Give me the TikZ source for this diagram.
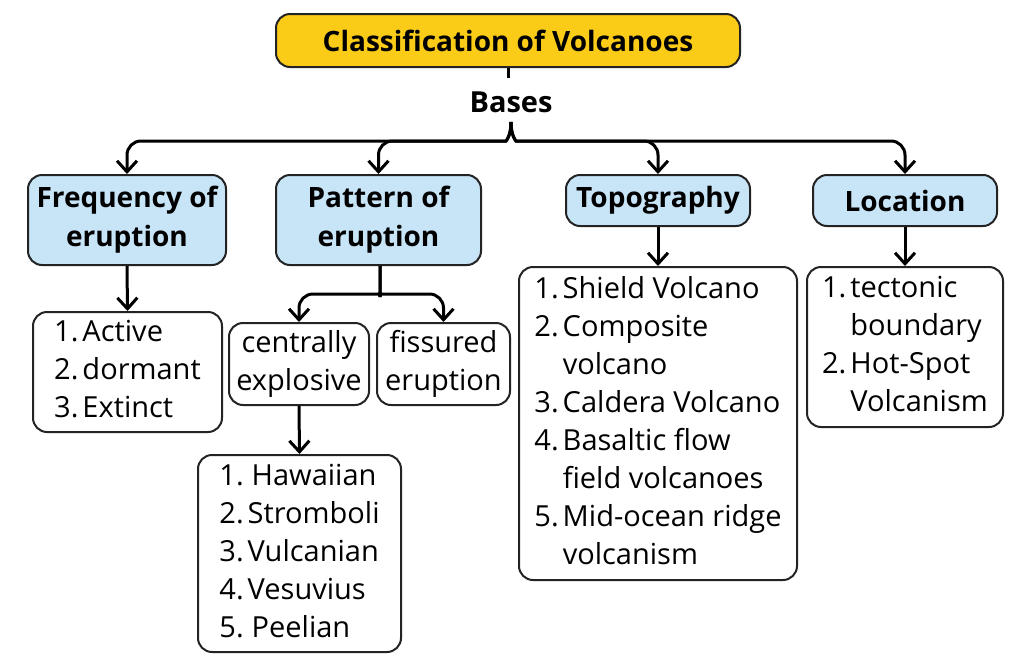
\documentclass[tikz,border=0pt]{standalone}
\usepackage{fontspec}
\setmainfont{Open Sans}
\usetikzlibrary{arrows.meta}
\definecolor{ttlfill}{RGB}{250,204,24}
\definecolor{hdrfill}{RGB}{200,228,247}
\definecolor{edgecol}{RGB}{35,35,35}
\newcommand\lstfont{\fontsize{14.5}{19}\selectfont}
\newcommand\mylist[1]{{\lstfont\begin{tabular}{@{}l@{\hspace{2pt}}l@{}}#1\end{tabular}}}
\begin{document}
\begin{tikzpicture}[x=0.5pt,y=-0.5pt,
  box/.style={draw=edgecol, line width=1pt, rounded corners=7pt, fill=white, inner sep=0pt, align=center},
  hdrbox/.style={box, fill=hdrfill, font=\bfseries\fontsize{14}{19.5}\selectfont},
  ttlbox/.style={box, fill=ttlfill, font=\bfseries\fontsize{14}{16}\selectfont},
  arr/.style={draw=black, line width=1.5pt, rounded corners=7pt, -{Straight Barb[length=5.5pt,width=10pt]}},
  plain/.style={draw=black, line width=1.5pt}]
\useasboundingbox (0,0) rectangle (1024,665);

% nodes
\node[ttlbox, minimum width=232pt, minimum height=26.5pt] (title) at (508,40.5) {Classification of Volcanoes};
\node[font=\bfseries\fontsize{14.5}{16}\selectfont, inner sep=0pt] (bases) at (511,102) {Bases};

\node[hdrbox, minimum width=99pt, minimum height=45pt] (freq) at (127,220) {Frequency of\\eruption};
\node[hdrbox, minimum width=102.5pt, minimum height=45pt] (patt) at (378.5,220) {Pattern of\\eruption};
\node[hdrbox, minimum width=92pt, minimum height=25.5pt] (topo) at (658,200.5) {Topography};
\node[hdrbox, minimum width=92pt, minimum height=25.5pt] (loc) at (905,200.5) {Location};

\node[box, minimum width=94.5pt, minimum height=60pt] (freqlist) at (127.5,372)
  {\mylist{1.&Active\\2.&dormant\\3.&Extinct}};
\node[box, minimum width=70pt, minimum height=41pt, font=\lstfont] (cent) at (299,364) {centrally\\explosive};
\node[box, minimum width=66.5pt, minimum height=41pt, font=\lstfont] (fiss) at (443.5,364) {fissured\\eruption};
\node[box, minimum width=101.5pt, minimum height=98.5pt] (haw) at (299.5,553.5)
  {\mylist{1.&\hspace{2pt}Hawaiian\\2.&Stromboli\\3.&Vulcanian\\4.&Vesuvius\\5.&\hspace{2pt}Peelian}};
\node[box, minimum width=139pt, minimum height=156.5pt] (topolist) at (658,423.5)
  {\mylist{1.&Shield Volcano\\2.&Composite\\&volcano\\3.&Caldera Volcano\\4.&Basaltic flow\\&field volcanoes\\5.&Mid-ocean ridge\\&volcanism}};
\node[box, minimum width=98pt, minimum height=80pt] (loclist) at (905,347)
  {\mylist{1.&tectonic\\&boundary\\2.&Hot-Spot\\&Volcanism}};

% helper coordinates
\coordinate (tick) at (508,78);
\coordinate (cusp) at (511,122);
\coordinate (hl) at (511,141);
\coordinate (pdrop) at (380,283);
\coordinate (phl) at (380,294);

% connectors
\draw[plain] (title.south) -- (tick);
\draw[arr] (cusp) .. controls (511,136) and (506,141) .. (492,141) -- (freq.north |- hl) -- (freq.north);
\draw[arr] (cusp) .. controls (511,136) and (506,141) .. (492,141) -- (patt.north |- hl) -- (patt.north);
\draw[arr] (cusp) .. controls (511,136) and (516,141) .. (530,141) -- (topo.north |- hl) -- (topo.north);
\draw[arr] (cusp) .. controls (511,136) and (516,141) .. (530,141) -- (loc.north |- hl) -- (loc.north);

\draw[arr] (freq.south) -- (freqlist.north);
\draw[arr] (topo.south) -- (topolist.north);
\draw[arr] (loc.south) -- (loclist.north);

\draw[arr] (patt.south -| pdrop) -- (pdrop) .. controls (380,291) and (376,294) .. (368,294) -- (cent.north |- phl) -- (cent.north);
\draw[arr] (patt.south -| pdrop) -- (pdrop) .. controls (380,291) and (384,294) .. (392,294) -- (fiss.north |- phl) -- (fiss.north);
\draw[arr] (cent.south) -- (haw.north);
\end{tikzpicture}
\end{document}
